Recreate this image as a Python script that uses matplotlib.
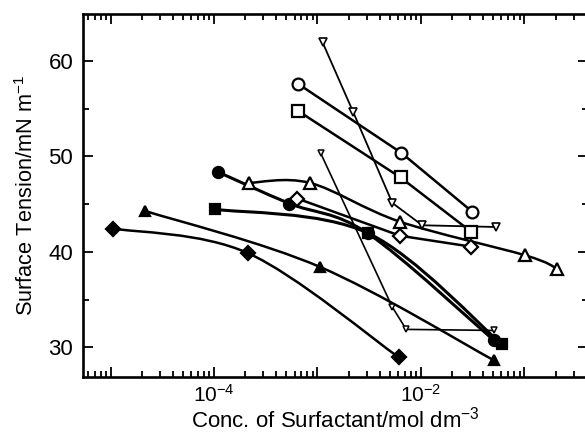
import numpy as np
import matplotlib
matplotlib.use("Agg")
import matplotlib.pyplot as plt
from matplotlib.path import Path
from matplotlib.patches import PathPatch

# 0) datos (concentracion en mol dm^-3, tension en mN m^-1)
conc_diamond_f = [1.05e-5, 2.15e-4, 6.08e-3]
st_diamond_f = [42.45, 39.85, 28.97]

conc_tri_f = [2.16e-5, 1.06e-3, 0.0509]
st_tri_f = [44.29, 38.42, 28.63]

conc_circle_f = [1.09e-4, 5.36e-4, 3.06e-3, 0.0509]
st_circle_f = [48.38, 45.07, 41.95, 30.72]

conc_square_f = [1.03e-4, 3.10e-3, 0.0608]
st_square_f = [44.47, 41.95, 30.30]

conc_diamond_o = [6.40e-4, 6.28e-3, 0.0306]
st_diamond_o = [45.59, 41.69, 40.55]

conc_tri_o = [2.16e-4, 8.47e-4, 6.21e-3, 0.102, 0.2065]
st_tri_o = [47.23, 47.23, 43.18, 39.64, 38.25]

conc_circle_o = [6.54e-4, 6.46e-3, 0.0315]
st_circle_o = [57.59, 50.38, 44.19]

conc_square_o = [6.54e-4, 6.35e-3, 0.0308]
st_square_o = [54.75, 47.80, 42.09]

conc_vtri_a = [1.12e-3, 2.21e-3, 5.29e-3, 0.0103, 0.0528]
st_vtri_a = [61.96, 54.68, 45.13, 42.79, 42.61]

conc_vtri_b = [1.07e-3, 5.29e-3, 7.21e-3, 0.0509]
st_vtri_b = [50.38, 34.22, 31.88, 31.77]

xtick_vals = [1e-5, 1e-4, 1e-3, 1e-2, 1e-1]
xtick_text = ['', r'$10^{-4}$', '', r'$10^{-2}$', '']
ytick_vals = [30, 40, 50, 60]
ytick_minor = [35, 45, 55]

plt.rcParams['font.family'] = ['Liberation Sans', 'DejaVu Sans']
plt.rcParams['mathtext.fontset'] = 'custom'
plt.rcParams['mathtext.rm'] = 'Liberation Sans'
plt.rcParams['mathtext.it'] = 'Liberation Sans:italic'
plt.rcParams['mathtext.bf'] = 'Liberation Sans:bold'


def curva_suave(xs, ys):
    # Catmull-Rom -> Bezier en espacio (log x, y)
    pts = np.column_stack([np.log10(xs), ys])
    ext = np.vstack([pts[0], pts, pts[-1]])
    verts = [pts[0]]
    codes = [Path.MOVETO]
    for i in range(len(pts) - 1):
        p0, p1, p2, p3 = ext[i], ext[i + 1], ext[i + 2], ext[i + 3]
        verts += [p1 + (p2 - p0) / 6, p2 - (p3 - p1) / 6, p2]
        codes += [Path.CURVE4] * 3
    verts = np.array(verts)
    verts[:, 0] = 10 ** verts[:, 0]
    return Path(verts, codes)


def serie(ax, xs, ys, marker, ms, fill, lw=1.8, smooth=True, mew=1.6):
    if smooth and len(xs) > 2:
        ax.add_patch(PathPatch(curva_suave(xs, ys), fill=False, ec='black',
                               lw=lw, zorder=2, capstyle='round'))
    else:
        ax.plot(xs, ys, '-', color='black', lw=lw, zorder=2)
    ax.plot(xs, ys, linestyle='none', marker=marker, ms=ms,
            mfc='black' if fill else 'white', mec='black', mew=mew, zorder=3)


# 1) figura
fig = plt.figure(figsize=(5.85, 4.36), dpi=100)
ax = fig.add_axes([0.1419, 0.1353, 0.863, 0.8326])
ax.set_xscale('log')

# 2) series
serie(ax, conc_diamond_f, st_diamond_f, 'D', 7.0, True)
serie(ax, conc_tri_f, st_tri_f, '^', 7.5, True)
serie(ax, conc_square_f, st_square_f, 's', 7.2, True, lw=2.2)
serie(ax, conc_circle_f, st_circle_f, 'o', 8.0, True, lw=2.2)
serie(ax, conc_vtri_b, st_vtri_b, 'v', 4.5, False, lw=1.2, smooth=False, mew=1.1)
serie(ax, conc_vtri_a, st_vtri_a, 'v', 5.5, False, lw=1.3, smooth=False, mew=1.2)
serie(ax, conc_tri_o, st_tri_o, '^', 9.0, False)
serie(ax, conc_diamond_o, st_diamond_o, 'D', 7.5, False, smooth=False)
serie(ax, conc_square_o, st_square_o, 's', 8.0, False, smooth=False)
serie(ax, conc_circle_o, st_circle_o, 'o', 8.5, False, smooth=False)

# 3) ejes
ax.set_xlim(5.42e-6, 0.4107)
ax.set_ylim(26.89, 64.93)
ax.set_xticks(xtick_vals)
ax.set_xticklabels(xtick_text)
ax.set_yticks(ytick_vals)
ax.set_yticks(ytick_minor, minor=True)
ax.xaxis.set_minor_locator(matplotlib.ticker.LogLocator(base=10, subs=np.arange(2, 10)))
ax.xaxis.set_minor_formatter(matplotlib.ticker.NullFormatter())

ax.tick_params(which='both', direction='in', top=True, right=True, width=1.3)
ax.tick_params(which='major', length=7.5)
ax.tick_params(which='minor', length=4)
ax.tick_params(axis='y', labelsize=16, pad=7)
ax.tick_params(axis='x', labelsize=15, pad=5)
for s in ax.spines.values():
    s.set_linewidth(1.9)

ax.set_xlabel(r'Conc. of Surfactant/mol dm$^{-3}$', fontsize=16)
ax.xaxis.label.set_va('baseline')
ax.xaxis.set_label_coords(0.5, -(427 - 376.5) / 363)
ax.set_ylabel(r'Surface Tension/mN m$^{-1}$', fontsize=15.7, labelpad=7.5)

# 4) guardado
fig.savefig('out.png', dpi=100)
plt.close(fig)
